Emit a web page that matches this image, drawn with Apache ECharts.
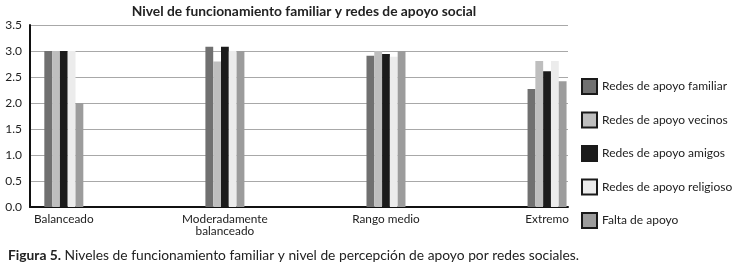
<!DOCTYPE html>
<html><head><meta charset="utf-8">
<script src="https://cdn.jsdelivr.net/npm/echarts@6/dist/echarts.min.js"></script>
<style>html,body{margin:0;padding:0;background:#fff}#c{width:736px;height:268px}</style>
</head><body><div id="c"></div>
<script>
const categories = ['Balanceado', 'Moderadamente\nbalanceado', 'Rango medio', 'Extremo'];
const seriesNames = ['Redes de apoyo familiar', 'Redes de apoyo vecinos', 'Redes de apoyo amigos', 'Redes de apoyo religioso', 'Falta de apoyo'];
const familiar  = [3.0, 3.08, 2.91, 2.27];
const vecinos   = [3.0, 2.80, 3.0, 2.81];
const amigos    = [3.0, 3.08, 2.94, 2.61];
const religioso = [3.0, 3.0, 2.89, 2.81];
const falta     = [2.0, 3.0, 3.0, 2.42];
const yTicks = [0, 0.5, 1.0, 1.5, 2.0, 2.5, 3.0, 3.5];
const colors = ['#707070', '#bebebe', '#1b1b1b', '#ececec', '#9c9c9c'];
const allValues = [familiar, vecinos, amigos, religioso, falta];
const font = 'Lato, "DejaVu Sans", sans-serif';

const chart = echarts.init(document.getElementById('c'));
chart.setOption({
  animation: false,
  title: [{
    text: 'Nivel de funcionamiento familiar y redes de apoyo social',
    left: 299, top: 0, textAlign: 'center',
    textStyle: {fontFamily: font, fontWeight: 'bold', fontSize: 13.8, color: '#222'}
  }, {
    text: '{b|Figura 5.} Niveles de funcionamiento familiar y nivel de percepción de apoyo por redes sociales.',
    left: 3, top: 244,
    textStyle: {fontFamily: font, fontSize: 13.8, color: '#222', fontWeight: 'normal',
      rich: {b: {fontFamily: font, fontSize: 13.8, fontWeight: 'bold', color: '#222'}}}
  }],
  legend: {
    orient: 'vertical', left: 576, top: 73, itemWidth: 15, itemHeight: 15, itemGap: 16.5,
    icon: 'rect',
    textStyle: {fontFamily: font, fontSize: 12, color: '#222'},
    data: seriesNames.map((n, i) => ({name: n, itemStyle: {color: colors[i], borderColor: '#1a1a1a', borderWidth: 2}}))
  },
  grid: {left: 30, right: 168, top: 25, bottom: 61},
  xAxis: {
    type: 'value', min: -0.21, max: 3.13,
    axisLine: {show: true, onZero: false, lineStyle: {color: '#111', width: 2}},
    axisTick: {show: false},
    splitLine: {show: false},
    axisLabel: {customValues: [0, 1, 2, 3], formatter: v => categories[Math.round(v)],
      fontFamily: font, fontSize: 11.8, color: '#222', lineHeight: 12, margin: 6}
  },
  yAxis: {
    type: 'value', min: 0, max: 3.5, interval: 0.5,
    axisLine: {show: true, onZero: false, lineStyle: {color: '#111', width: 2}},
    axisTick: {show: false},
    splitLine: {lineStyle: {color: '#a8a8a8', width: 1}},
    axisLabel: {formatter: v => v.toFixed(1), fontFamily: font, fontSize: 12, color: '#222', margin: 8}
  },
  series: seriesNames.map((n, i) => ({
    name: n, type: 'bar', barWidth: 7.8, barGap: '0%',
    itemStyle: {color: colors[i]},
    data: allValues[i].map((v, k) => [k, v])
  }))
});
</script></body></html>
